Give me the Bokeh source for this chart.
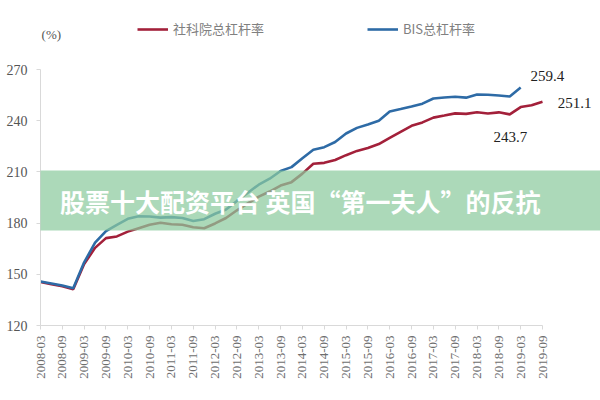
import numpy as np
from bokeh.plotting import figure
from bokeh.models import (ColumnDataSource, FixedTicker, Label, Legend, LegendItem,
                          BoxAnnotation, Range1d)
from bokeh.embed import file_html
from bokeh.resources import INLINE

# ---------------- data ----------------
tick_labels = ["2008-03", "2008-09", "2009-03", "2009-09", "2010-03", "2010-09",
               "2011-03", "2011-09", "2012-03", "2012-09", "2013-03", "2013-09",
               "2014-03", "2014-09", "2015-03", "2015-09", "2016-03", "2016-09",
               "2017-03", "2017-09", "2018-03", "2018-09", "2019-03", "2019-09"]

# quarterly values, 2008-03 ... 2019-09
cass_leverage = [145.5, 144.2, 143.0, 141.3, 156.0, 165.5, 171.2, 172.2, 175.0, 177.0,
                 179.0, 180.2, 179.3, 179.0, 177.6, 177.0, 179.8, 183.0, 187.5, 191.5,
                 195.5, 198.5, 202.0, 204.0, 209.0, 214.8, 215.3, 217.0, 219.8, 222.3,
                 224.0, 226.3, 230.0, 233.5, 237.0, 239.0, 241.8, 243.0, 244.3, 244.0,
                 245.0, 244.2, 244.9, 243.7, 248.0, 249.0, 251.1]

# quarterly values, 2008-03 ... 2019-03
bis_leverage = [145.8, 144.6, 143.4, 141.8, 157.0, 168.5, 175.3, 179.0, 182.5, 184.0,
                183.9, 183.2, 183.5, 183.0, 181.2, 182.3, 185.5, 188.0, 193.0, 197.8,
                202.5, 206.0, 210.5, 212.8, 218.0, 223.0, 224.5, 227.5, 232.5, 235.8,
                237.8, 240.0, 245.4, 246.8, 248.3, 250.0, 253.0, 253.6, 254.0, 253.5,
                255.3, 255.2, 254.8, 254.2, 259.4]

y_ticks = [120, 150, 180, 210, 240, 270]
series_names = ["社科院总杠杆率", "BIS总杠杆率"]
banner_text = "股票十大配资平台 英国“第一夫人”的反抗"

RED = "#A3203A"
BLUE = "#2E6BA6"
GREY = "#6e6e6e"

src_cass = ColumnDataSource(dict(x=np.arange(len(cass_leverage)), y=cass_leverage))
src_bis = ColumnDataSource(dict(x=np.arange(len(bis_leverage)), y=bis_leverage))

n_q = len(cass_leverage) - 1
# frame spans to the top and right edges so that legend / value labels are not clipped;
# axis lines are limited with bounds to the data extent
PX_X = 502.0 / n_q                      # pixels per quarter
PX_Y = 256.0 / (y_ticks[-1] - y_ticks[0])  # pixels per unit
x_end = n_q + 58.0 / PX_X
y_end = y_ticks[-1] + 69.0 / PX_Y

p = figure(width=600, height=400, output_backend="svg", toolbar_location=None,
           x_range=Range1d(0, x_end), y_range=Range1d(y_ticks[0], y_end),
           min_border_left=40, min_border_right=0, min_border_top=0,
           min_border_bottom=75)
p.outline_line_color = None
p.grid.visible = False
p.background_fill_color = "white"
p.border_fill_color = "white"

r_red = p.line("x", "y", source=src_cass, color=RED, line_width=2.6)
r_blue = p.line("x", "y", source=src_bis, color=BLUE, line_width=2.6)

# axes
xa = p.xaxis[0]
xa.bounds = (0, n_q)
xa.ticker = FixedTicker(ticks=list(range(0, n_q + 1, 2)))
xa.major_label_overrides = {i * 2: lab for i, lab in enumerate(tick_labels)}
xa.major_label_orientation = np.pi / 2
xa.axis_line_color = "#d9d9d9"
xa.major_tick_line_color = "#d9d9d9"
xa.major_tick_out = 4
xa.major_tick_in = 0
xa.minor_tick_line_color = None
xa.major_label_text_font = "Liberation Serif"
xa.major_label_text_font_size = "13px"
xa.major_label_text_color = GREY
xa.major_label_standoff = 6

ya = p.yaxis[0]
ya.bounds = (y_ticks[0], y_ticks[-1])
ya.ticker = FixedTicker(ticks=y_ticks)
ya.axis_line_color = "#d9d9d9"
ya.major_tick_line_color = "#d9d9d9"
ya.major_tick_out = 4
ya.major_tick_in = 0
ya.minor_tick_line_color = None
ya.major_label_text_font = "Liberation Serif"
ya.major_label_text_font_size = "14px"
ya.major_label_text_color = "#555555"
ya.major_label_standoff = 9

# legends
for name, rend, loc in [(series_names[0], r_red, (97, 287)), (series_names[1], r_blue, (327, 287))]:
    lg = Legend(items=[LegendItem(label=name, renderers=[rend])], location=loc,
                orientation="horizontal", padding=0, margin=0, border_line_color=None,
                background_fill_alpha=0, glyph_width=31, glyph_height=18,
                label_height=18, label_standoff=5, label_text_font="Noto Sans CJK SC",
                label_text_font_size="13px", label_text_color="#808080")
    p.add_layout(lg, "center")

# unit label
p.add_layout(Label(x=0.1, y=290.5, text="(%)", text_font="Liberation Serif",
                   text_font_size="13px", text_color="#555555", text_align="left",
                   text_baseline="middle"))

# value annotations
p.add_layout(Label(x=44.9, y=bis_leverage[-1] + 6.5, text=f"{bis_leverage[-1]:.1f}",
                   text_font="Liberation Serif", text_font_size="15px",
                   text_color="#222222", text_baseline="middle"))
p.add_layout(Label(x=47.4, y=cass_leverage[-1] - 1.0, text=f"{cass_leverage[-1]:.1f}",
                   text_font="Liberation Serif", text_font_size="15px",
                   text_color="#222222", text_baseline="middle"))
p.add_layout(Label(x=41.5, y=cass_leverage[43] - 13.5, text=f"{cass_leverage[43]:.1f}",
                   text_font="Liberation Serif", text_font_size="15px",
                   text_color="#222222", text_baseline="middle"))

# overlay banner
p.add_layout(BoxAnnotation(left=-10, right=60, bottom=175.6, top=210.8,
                           fill_color="#8CCB9E", fill_alpha=0.72, line_color=None,
                           level="overlay"))
p.add_layout(Label(x=23.8, y=193.2, text=banner_text, text_font="Noto Sans CJK SC",
                   text_font_style="bold", text_font_size="25px", text_color="white",
                   text_align="center", text_baseline="middle", level="overlay"))

open("out.html", "w").write(file_html(p, INLINE))
